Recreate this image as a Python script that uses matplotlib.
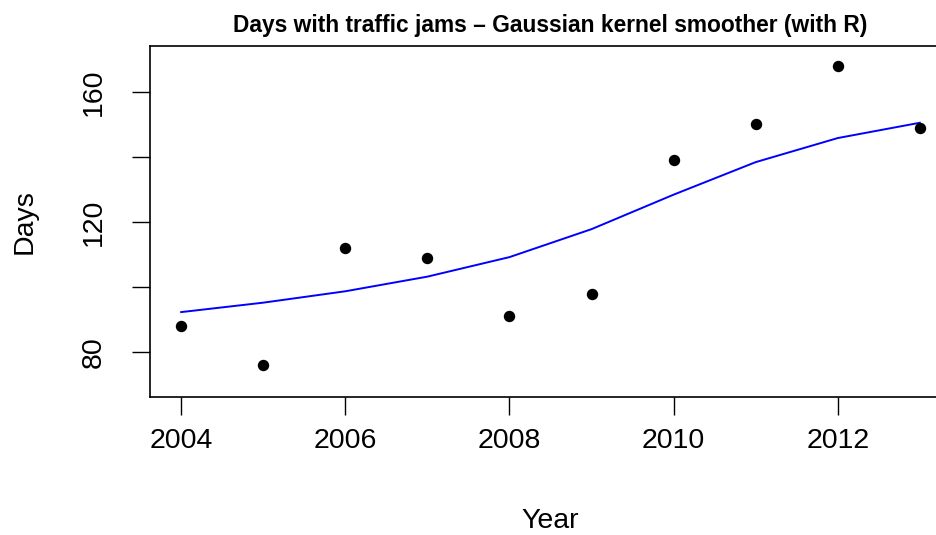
import matplotlib
matplotlib.use('Agg')
import matplotlib.pyplot as plt

# Yearly counts of days with traffic jams and the kernel smoother fit
years = [2004, 2005, 2006, 2007, 2008, 2009, 2010, 2011, 2012, 2013]
days = [88, 76, 112, 109, 91, 98, 139, 150, 168, 149]
smooth = [92.3, 95.2, 98.7, 103.2, 109.2, 117.8, 128.4, 138.4, 145.8, 150.5]

xticks = [2004, 2006, 2008, 2010, 2012]
yticks = [80, 100, 120, 140, 160]
ytick_labels = ['80', '', '120', '', '160']

plt.rcParams['font.family'] = ['Liberation Sans', 'DejaVu Sans']

fig = plt.figure(figsize=(9.37, 5.35), dpi=100)
# axes runs past the right edge of the image, like the reference
ax = fig.add_axes([150 / 937, 138 / 535, 801 / 937, 351 / 535])

ax.plot(years, smooth, color='blue', linewidth=1.4)
ax.plot(years, days, 'o', color='black', markersize=7.2)

ax.set_xlim(2003.62, 2013.38)
ax.set_ylim(66.2, 174.1)

ax.set_xticks(xticks)
ax.set_yticks(yticks)
ax.set_yticklabels(ytick_labels, rotation=90, va='center')
ax.tick_params(axis='both', direction='out', length=13, width=1.0,
               labelsize=20.5)
ax.tick_params(axis='x', pad=9)
ax.tick_params(axis='y', pad=18)

for s in ax.spines.values():
    s.set_linewidth(1.2)

ax.set_xlabel('Year', fontsize=20.5, labelpad=39)
ax.set_ylabel('Days', fontsize=20.5, labelpad=31)
ax.set_title('Days with traffic jams \u2013 Gaussian kernel smoother (with R)',
             fontsize=16.4, fontweight='bold', pad=10)

plt.savefig('out.png', dpi=100)
